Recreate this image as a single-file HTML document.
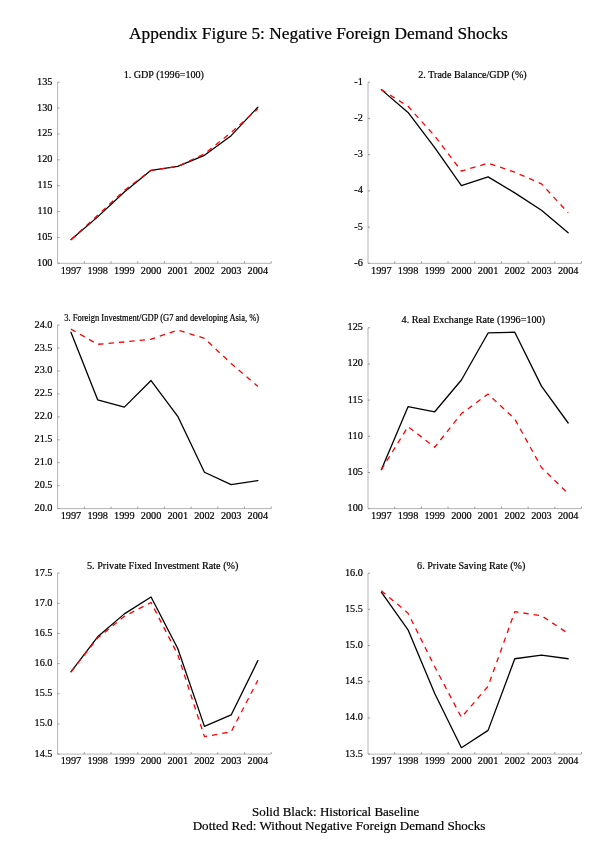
<!DOCTYPE html>
<html><head><meta charset="utf-8"><title>Appendix Figure 5</title>
<style>
html,body{margin:0;padding:0;background:#fff;}
body{width:600px;height:856px;overflow:hidden;font-family:"Liberation Serif","Times New Roman",serif;}
svg{display:block;font-family:"Liberation Serif","Times New Roman",serif;}
</style></head><body>
<svg width="600" height="856" viewBox="0 0 600 856">
<style>text{fill:#000;stroke:#000;stroke-width:0.2px;}</style>
<rect width="600" height="856" fill="#ffffff"/>
<text x="318.4" y="39.3" font-size="17.35" text-anchor="middle">Appendix Figure 5: Negative Foreign Demand Shocks</text>
<g>
<text transform="translate(163.8 77.6) scale(1 1)" font-size="10.12" text-anchor="middle">1. GDP (1996=100)</text>
<path d="M57.6 82.2V263.3H271.2" fill="none" stroke="#b4b4b4" stroke-width="1.0"/>
<path d="M57.6 263.30h2.0M57.6 237.43h2.0M57.6 211.56h2.0M57.6 185.69h2.0M57.6 159.81h2.0M57.6 133.94h2.0M57.6 108.07h2.0M57.6 82.20h2.0M84.30 263.3v-2.0M111.00 263.3v-2.0M137.70 263.3v-2.0M164.40 263.3v-2.0M191.10 263.3v-2.0M217.80 263.3v-2.0M244.50 263.3v-2.0M271.20 263.3v-2.0" fill="none" stroke="#8e8e8e" stroke-width="0.9"/>
<text transform="translate(52.50 265.80) scale(0.98 1)" font-size="10.5" text-anchor="end">100</text>
<text transform="translate(52.50 239.93) scale(0.98 1)" font-size="10.5" text-anchor="end">105</text>
<text transform="translate(52.50 214.06) scale(0.98 1)" font-size="10.5" text-anchor="end">110</text>
<text transform="translate(52.50 188.19) scale(0.98 1)" font-size="10.5" text-anchor="end">115</text>
<text transform="translate(52.50 162.31) scale(0.98 1)" font-size="10.5" text-anchor="end">120</text>
<text transform="translate(52.50 136.44) scale(0.98 1)" font-size="10.5" text-anchor="end">125</text>
<text transform="translate(52.50 110.57) scale(0.98 1)" font-size="10.5" text-anchor="end">130</text>
<text transform="translate(52.50 84.70) scale(0.98 1)" font-size="10.5" text-anchor="end">135</text>
<text transform="translate(70.95 273.60) scale(0.98 1)" font-size="10.5" text-anchor="middle">1997</text>
<text transform="translate(97.65 273.60) scale(0.98 1)" font-size="10.5" text-anchor="middle">1998</text>
<text transform="translate(124.35 273.60) scale(0.98 1)" font-size="10.5" text-anchor="middle">1999</text>
<text transform="translate(151.05 273.60) scale(0.98 1)" font-size="10.5" text-anchor="middle">2000</text>
<text transform="translate(177.75 273.60) scale(0.98 1)" font-size="10.5" text-anchor="middle">2001</text>
<text transform="translate(204.45 273.60) scale(0.98 1)" font-size="10.5" text-anchor="middle">2002</text>
<text transform="translate(231.15 273.60) scale(0.98 1)" font-size="10.5" text-anchor="middle">2003</text>
<text transform="translate(257.85 273.60) scale(0.98 1)" font-size="10.5" text-anchor="middle">2004</text>
<polyline points="70.95,239.65 97.65,216.88 124.35,192.04 151.05,170.31 177.75,166.43 204.45,155.31 231.15,135.65 257.85,107.19" fill="none" stroke="#000" stroke-width="1.3" stroke-linejoin="round" stroke-linecap="round"/>
<polyline points="70.95,239.65 97.65,215.33 124.35,190.49 151.05,170.31 177.75,166.43 204.45,153.76 231.15,132.54 257.85,108.74" fill="none" stroke="#f00" stroke-width="1.3" stroke-dasharray="5.4 5" stroke-linejoin="round"/>
</g>
<g>
<text transform="translate(472.5 77.6) scale(1 1)" font-size="10.1" text-anchor="middle">2. Trade Balance/GDP (%)</text>
<path d="M368.0 82.2V263.35H581.5" fill="none" stroke="#b4b4b4" stroke-width="1.0"/>
<path d="M368.0 263.35h2.0M368.0 227.12h2.0M368.0 190.89h2.0M368.0 154.66h2.0M368.0 118.43h2.0M368.0 82.20h2.0M394.69 263.35v-2.0M421.38 263.35v-2.0M448.06 263.35v-2.0M474.75 263.35v-2.0M501.44 263.35v-2.0M528.12 263.35v-2.0M554.81 263.35v-2.0M581.50 263.35v-2.0" fill="none" stroke="#8e8e8e" stroke-width="0.9"/>
<text transform="translate(362.90 265.85) scale(0.98 1)" font-size="10.5" text-anchor="end">-6</text>
<text transform="translate(362.90 229.62) scale(0.98 1)" font-size="10.5" text-anchor="end">-5</text>
<text transform="translate(362.90 193.39) scale(0.98 1)" font-size="10.5" text-anchor="end">-4</text>
<text transform="translate(362.90 157.16) scale(0.98 1)" font-size="10.5" text-anchor="end">-3</text>
<text transform="translate(362.90 120.93) scale(0.98 1)" font-size="10.5" text-anchor="end">-2</text>
<text transform="translate(362.90 84.70) scale(0.98 1)" font-size="10.5" text-anchor="end">-1</text>
<text transform="translate(381.34 273.65) scale(0.98 1)" font-size="10.5" text-anchor="middle">1997</text>
<text transform="translate(408.03 273.65) scale(0.98 1)" font-size="10.5" text-anchor="middle">1998</text>
<text transform="translate(434.72 273.65) scale(0.98 1)" font-size="10.5" text-anchor="middle">1999</text>
<text transform="translate(461.41 273.65) scale(0.98 1)" font-size="10.5" text-anchor="middle">2000</text>
<text transform="translate(488.09 273.65) scale(0.98 1)" font-size="10.5" text-anchor="middle">2001</text>
<text transform="translate(514.78 273.65) scale(0.98 1)" font-size="10.5" text-anchor="middle">2002</text>
<text transform="translate(541.47 273.65) scale(0.98 1)" font-size="10.5" text-anchor="middle">2003</text>
<text transform="translate(568.16 273.65) scale(0.98 1)" font-size="10.5" text-anchor="middle">2004</text>
<polyline points="381.34,89.62 408.03,112.45 434.72,147.59 461.41,185.63 488.09,176.93 514.78,192.88 541.47,210.27 568.16,232.73" fill="none" stroke="#000" stroke-width="1.3" stroke-linejoin="round" stroke-linecap="round"/>
<polyline points="381.34,89.62 408.03,106.29 434.72,136.00 461.41,171.14 488.09,163.17 514.78,172.22 541.47,183.82 568.16,212.80" fill="none" stroke="#f00" stroke-width="1.3" stroke-dasharray="5.4 5" stroke-linejoin="round"/>
</g>
<g>
<text transform="translate(161.7 321) scale(0.906 1)" font-size="9.4" text-anchor="middle">3. Foreign Investment/GDP (G7 and developing Asia, %)</text>
<path d="M57.6 325.1V508.6H271.2" fill="none" stroke="#b4b4b4" stroke-width="1.0"/>
<path d="M57.6 508.60h2.0M57.6 485.66h2.0M57.6 462.73h2.0M57.6 439.79h2.0M57.6 416.85h2.0M57.6 393.91h2.0M57.6 370.98h2.0M57.6 348.04h2.0M57.6 325.10h2.0M84.30 508.6v-2.0M111.00 508.6v-2.0M137.70 508.6v-2.0M164.40 508.6v-2.0M191.10 508.6v-2.0M217.80 508.6v-2.0M244.50 508.6v-2.0M271.20 508.6v-2.0" fill="none" stroke="#8e8e8e" stroke-width="0.9"/>
<text transform="translate(52.50 511.10) scale(0.98 1)" font-size="10.5" text-anchor="end">20.0</text>
<text transform="translate(52.50 488.16) scale(0.98 1)" font-size="10.5" text-anchor="end">20.5</text>
<text transform="translate(52.50 465.23) scale(0.98 1)" font-size="10.5" text-anchor="end">21.0</text>
<text transform="translate(52.50 442.29) scale(0.98 1)" font-size="10.5" text-anchor="end">21.5</text>
<text transform="translate(52.50 419.35) scale(0.98 1)" font-size="10.5" text-anchor="end">22.0</text>
<text transform="translate(52.50 396.41) scale(0.98 1)" font-size="10.5" text-anchor="end">22.5</text>
<text transform="translate(52.50 373.48) scale(0.98 1)" font-size="10.5" text-anchor="end">23.0</text>
<text transform="translate(52.50 350.54) scale(0.98 1)" font-size="10.5" text-anchor="end">23.5</text>
<text transform="translate(52.50 327.60) scale(0.98 1)" font-size="10.5" text-anchor="end">24.0</text>
<text transform="translate(70.95 518.90) scale(0.98 1)" font-size="10.5" text-anchor="middle">1997</text>
<text transform="translate(97.65 518.90) scale(0.98 1)" font-size="10.5" text-anchor="middle">1998</text>
<text transform="translate(124.35 518.90) scale(0.98 1)" font-size="10.5" text-anchor="middle">1999</text>
<text transform="translate(151.05 518.90) scale(0.98 1)" font-size="10.5" text-anchor="middle">2000</text>
<text transform="translate(177.75 518.90) scale(0.98 1)" font-size="10.5" text-anchor="middle">2001</text>
<text transform="translate(204.45 518.90) scale(0.98 1)" font-size="10.5" text-anchor="middle">2002</text>
<text transform="translate(231.15 518.90) scale(0.98 1)" font-size="10.5" text-anchor="middle">2003</text>
<text transform="translate(257.85 518.90) scale(0.98 1)" font-size="10.5" text-anchor="middle">2004</text>
<polyline points="70.95,332.35 97.65,399.79 124.35,407.13 151.05,380.52 177.75,416.30 204.45,472.27 231.15,484.65 257.85,480.52" fill="none" stroke="#000" stroke-width="1.3" stroke-linejoin="round" stroke-linecap="round"/>
<polyline points="70.95,329.14 97.65,344.28 124.35,341.98 151.05,339.23 177.75,330.06 204.45,338.31 231.15,363.54 257.85,386.48" fill="none" stroke="#f00" stroke-width="1.3" stroke-dasharray="5.4 5" stroke-linejoin="round"/>
</g>
<g>
<text transform="translate(473.3 322.6) scale(1 1)" font-size="10.2" text-anchor="middle">4. Real Exchange Rate (1996=100)</text>
<path d="M368.0 327.8V508.6H581.5" fill="none" stroke="#b4b4b4" stroke-width="1.0"/>
<path d="M368.0 508.60h2.0M368.0 472.44h2.0M368.0 436.28h2.0M368.0 400.12h2.0M368.0 363.96h2.0M368.0 327.80h2.0M394.69 508.6v-2.0M421.38 508.6v-2.0M448.06 508.6v-2.0M474.75 508.6v-2.0M501.44 508.6v-2.0M528.12 508.6v-2.0M554.81 508.6v-2.0M581.50 508.6v-2.0" fill="none" stroke="#8e8e8e" stroke-width="0.9"/>
<text transform="translate(362.90 511.10) scale(0.98 1)" font-size="10.5" text-anchor="end">100</text>
<text transform="translate(362.90 474.94) scale(0.98 1)" font-size="10.5" text-anchor="end">105</text>
<text transform="translate(362.90 438.78) scale(0.98 1)" font-size="10.5" text-anchor="end">110</text>
<text transform="translate(362.90 402.62) scale(0.98 1)" font-size="10.5" text-anchor="end">115</text>
<text transform="translate(362.90 366.46) scale(0.98 1)" font-size="10.5" text-anchor="end">120</text>
<text transform="translate(362.90 330.30) scale(0.98 1)" font-size="10.5" text-anchor="end">125</text>
<text transform="translate(381.34 518.90) scale(0.98 1)" font-size="10.5" text-anchor="middle">1997</text>
<text transform="translate(408.03 518.90) scale(0.98 1)" font-size="10.5" text-anchor="middle">1998</text>
<text transform="translate(434.72 518.90) scale(0.98 1)" font-size="10.5" text-anchor="middle">1999</text>
<text transform="translate(461.41 518.90) scale(0.98 1)" font-size="10.5" text-anchor="middle">2000</text>
<text transform="translate(488.09 518.90) scale(0.98 1)" font-size="10.5" text-anchor="middle">2001</text>
<text transform="translate(514.78 518.90) scale(0.98 1)" font-size="10.5" text-anchor="middle">2002</text>
<text transform="translate(541.47 518.90) scale(0.98 1)" font-size="10.5" text-anchor="middle">2003</text>
<text transform="translate(568.16 518.90) scale(0.98 1)" font-size="10.5" text-anchor="middle">2004</text>
<polyline points="381.34,469.65 408.03,406.73 434.72,411.79 461.41,379.97 488.09,332.96 514.78,332.24 541.47,386.12 568.16,423.00" fill="none" stroke="#000" stroke-width="1.3" stroke-linejoin="round" stroke-linecap="round"/>
<polyline points="381.34,469.65 408.03,426.62 434.72,447.23 461.41,413.60 488.09,394.07 514.78,419.02 541.47,467.48 568.16,493.51" fill="none" stroke="#f00" stroke-width="1.3" stroke-dasharray="5.4 5" stroke-linejoin="round"/>
</g>
<g>
<text transform="translate(162.7 568.6) scale(1 1)" font-size="10.18" text-anchor="middle">5. Private Fixed Investment Rate (%)</text>
<path d="M57.6 573.1V754.1H271.2" fill="none" stroke="#b4b4b4" stroke-width="1.0"/>
<path d="M57.6 754.10h2.0M57.6 723.93h2.0M57.6 693.77h2.0M57.6 663.60h2.0M57.6 633.43h2.0M57.6 603.27h2.0M57.6 573.10h2.0M84.30 754.1v-2.0M111.00 754.1v-2.0M137.70 754.1v-2.0M164.40 754.1v-2.0M191.10 754.1v-2.0M217.80 754.1v-2.0M244.50 754.1v-2.0M271.20 754.1v-2.0" fill="none" stroke="#8e8e8e" stroke-width="0.9"/>
<text transform="translate(52.50 756.60) scale(0.98 1)" font-size="10.5" text-anchor="end">14.5</text>
<text transform="translate(52.50 726.43) scale(0.98 1)" font-size="10.5" text-anchor="end">15.0</text>
<text transform="translate(52.50 696.27) scale(0.98 1)" font-size="10.5" text-anchor="end">15.5</text>
<text transform="translate(52.50 666.10) scale(0.98 1)" font-size="10.5" text-anchor="end">16.0</text>
<text transform="translate(52.50 635.93) scale(0.98 1)" font-size="10.5" text-anchor="end">16.5</text>
<text transform="translate(52.50 605.77) scale(0.98 1)" font-size="10.5" text-anchor="end">17.0</text>
<text transform="translate(52.50 575.60) scale(0.98 1)" font-size="10.5" text-anchor="end">17.5</text>
<text transform="translate(70.95 764.40) scale(0.98 1)" font-size="10.5" text-anchor="middle">1997</text>
<text transform="translate(97.65 764.40) scale(0.98 1)" font-size="10.5" text-anchor="middle">1998</text>
<text transform="translate(124.35 764.40) scale(0.98 1)" font-size="10.5" text-anchor="middle">1999</text>
<text transform="translate(151.05 764.40) scale(0.98 1)" font-size="10.5" text-anchor="middle">2000</text>
<text transform="translate(177.75 764.40) scale(0.98 1)" font-size="10.5" text-anchor="middle">2001</text>
<text transform="translate(204.45 764.40) scale(0.98 1)" font-size="10.5" text-anchor="middle">2002</text>
<text transform="translate(231.15 764.40) scale(0.98 1)" font-size="10.5" text-anchor="middle">2003</text>
<text transform="translate(257.85 764.40) scale(0.98 1)" font-size="10.5" text-anchor="middle">2004</text>
<polyline points="70.95,671.80 97.65,636.81 124.35,613.88 151.05,597.05 177.75,648.57 204.45,726.40 231.15,714.94 257.85,660.64" fill="none" stroke="#000" stroke-width="1.3" stroke-linejoin="round" stroke-linecap="round"/>
<polyline points="70.95,671.80 97.65,638.01 124.35,616.29 151.05,602.48 177.75,654.60 204.45,736.66 231.15,731.83 257.85,680.25" fill="none" stroke="#f00" stroke-width="1.3" stroke-dasharray="5.4 5" stroke-linejoin="round"/>
</g>
<g>
<text transform="translate(471.2 568.6) scale(1 1)" font-size="10.15" text-anchor="middle">6. Private Saving Rate (%)</text>
<path d="M368.0 573.2V754.1H581.5" fill="none" stroke="#b4b4b4" stroke-width="1.0"/>
<path d="M368.0 754.10h2.0M368.0 717.92h2.0M368.0 681.74h2.0M368.0 645.56h2.0M368.0 609.38h2.0M368.0 573.20h2.0M394.69 754.1v-2.0M421.38 754.1v-2.0M448.06 754.1v-2.0M474.75 754.1v-2.0M501.44 754.1v-2.0M528.12 754.1v-2.0M554.81 754.1v-2.0M581.50 754.1v-2.0" fill="none" stroke="#8e8e8e" stroke-width="0.9"/>
<text transform="translate(362.90 756.60) scale(0.98 1)" font-size="10.5" text-anchor="end">13.5</text>
<text transform="translate(362.90 720.42) scale(0.98 1)" font-size="10.5" text-anchor="end">14.0</text>
<text transform="translate(362.90 684.24) scale(0.98 1)" font-size="10.5" text-anchor="end">14.5</text>
<text transform="translate(362.90 648.06) scale(0.98 1)" font-size="10.5" text-anchor="end">15.0</text>
<text transform="translate(362.90 611.88) scale(0.98 1)" font-size="10.5" text-anchor="end">15.5</text>
<text transform="translate(362.90 575.70) scale(0.98 1)" font-size="10.5" text-anchor="end">16.0</text>
<text transform="translate(381.34 764.40) scale(0.98 1)" font-size="10.5" text-anchor="middle">1997</text>
<text transform="translate(408.03 764.40) scale(0.98 1)" font-size="10.5" text-anchor="middle">1998</text>
<text transform="translate(434.72 764.40) scale(0.98 1)" font-size="10.5" text-anchor="middle">1999</text>
<text transform="translate(461.41 764.40) scale(0.98 1)" font-size="10.5" text-anchor="middle">2000</text>
<text transform="translate(488.09 764.40) scale(0.98 1)" font-size="10.5" text-anchor="middle">2001</text>
<text transform="translate(514.78 764.40) scale(0.98 1)" font-size="10.5" text-anchor="middle">2002</text>
<text transform="translate(541.47 764.40) scale(0.98 1)" font-size="10.5" text-anchor="middle">2003</text>
<text transform="translate(568.16 764.40) scale(0.98 1)" font-size="10.5" text-anchor="middle">2004</text>
<polyline points="381.34,592.19 408.03,629.81 434.72,693.49 461.41,747.76 488.09,730.39 514.78,658.76 541.47,655.14 568.16,658.76" fill="none" stroke="#000" stroke-width="1.3" stroke-linejoin="round" stroke-linecap="round"/>
<polyline points="381.34,590.74 408.03,613.17 434.72,666.72 461.41,717.37 488.09,686.26 514.78,611.72 541.47,615.70 568.16,633.43" fill="none" stroke="#f00" stroke-width="1.3" stroke-dasharray="5.4 5" stroke-linejoin="round"/>
</g>
<text x="335.6" y="816.2" font-size="13" text-anchor="middle">Solid Black: Historical Baseline</text>
<text x="339" y="830" font-size="13.12" text-anchor="middle">Dotted Red: Without Negative Foreign Demand Shocks</text>
</svg>
</body></html>
